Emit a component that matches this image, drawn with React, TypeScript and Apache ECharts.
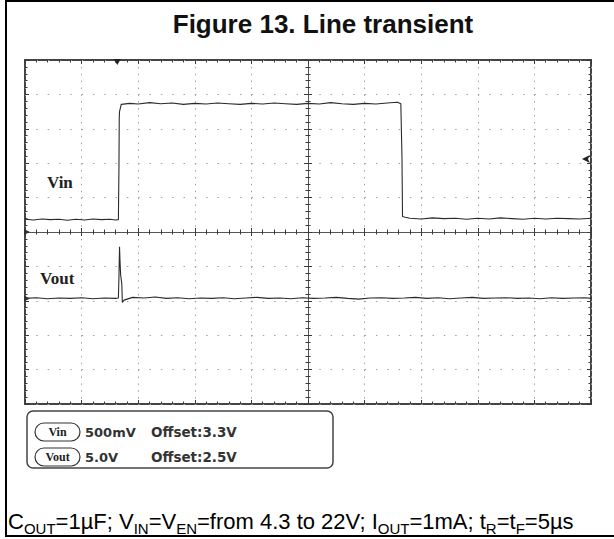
import React, { useEffect, useRef } from "react";
import * as echarts from "echarts";

const titleText = "Figure 13. Line transient";
const channelNames = ["Vin", "Vout"];
const channelScales = ["500mV", "5.0V"];
const channelOffsets = ["Offset:3.3V", "Offset:2.5V"];

// time in divisions (centre = 0), level in divisions
const vinTime = [
  -5.0, -4.85, -4.7, -4.55, -4.4, -4.25, -4.1, -3.95, -3.8, -3.65, -3.5, -3.4, -3.35,
  -3.34, -3.335, -3.33, -3.3,
  -3.15, -3.0, -2.8, -2.6, -2.4, -2.2, -2.0, -1.8, -1.6, -1.4, -1.2, -1.0, -0.8, -0.6, -0.4, -0.2,
  0.0, 0.2, 0.4, 0.6, 0.8, 1.0, 1.2, 1.4, 1.58, 1.64,
  1.66, 1.67, 1.72,
  1.8, 2.0, 2.2, 2.4, 2.6, 2.8, 3.0, 3.2, 3.4, 3.6, 3.8, 4.0, 4.2, 4.4, 4.6, 4.8, 5.0,
];
const vinLevel = [
  0.37, 0.35, 0.38, 0.36, 0.37, 0.34, 0.37, 0.35, 0.38, 0.36, 0.37, 0.35, 0.36,
  1.9, 3.3, 3.5, 3.71,
  3.74, 3.72, 3.76, 3.73, 3.75, 3.71, 3.74, 3.72, 3.75, 3.73, 3.71, 3.74, 3.72, 3.75, 3.73, 3.71,
  3.74, 3.72, 3.76, 3.73, 3.71, 3.74, 3.72, 3.75, 3.77, 3.73,
  2.2, 0.45, 0.43,
  0.4, 0.38, 0.41, 0.39, 0.4, 0.37, 0.4, 0.38, 0.41, 0.39, 0.37, 0.4, 0.38, 0.4, 0.39, 0.38, 0.4,
];
const voutTime = [
  -5.0, -4.8, -4.6, -4.4, -4.2, -4.0, -3.8, -3.6, -3.4, -3.35,
  -3.34, -3.33, -3.32, -3.31, -3.29, -3.28, -3.25,
  -3.1, -2.9, -2.7, -2.5, -2.3, -2.1, -1.9, -1.7, -1.5, -1.3, -1.1, -0.9, -0.7, -0.5, -0.3, -0.1,
  0.1, 0.3, 0.5, 0.7, 0.9, 1.1, 1.3, 1.5, 1.7, 1.9, 2.1, 2.3, 2.5, 2.7, 2.9, 3.1, 3.3, 3.5, 3.7,
  3.9, 4.1, 4.3, 4.5, 4.7, 4.9, 5.0,
];
const voutLevel = [
  -1.93, -1.91, -1.94, -1.92, -1.93, -1.91, -1.94, -1.92, -1.93, -1.92,
  -1.3, -0.43, -0.9, -1.25, -1.5, -2.05, -1.98,
  -1.9, -1.92, -1.89, -1.93, -1.91, -1.94, -1.92, -1.93, -1.91, -1.94, -1.92, -1.9, -1.93, -1.92, -1.94, -1.91,
  -1.93, -1.92, -1.9, -1.93, -1.95, -1.92, -1.91, -1.93, -1.92, -1.9, -1.93, -1.91, -1.94, -1.92, -1.9, -1.93, -1.92, -1.91, -1.93,
  -1.92, -1.94, -1.91, -1.93, -1.92, -1.91, -1.93,
];

const triggerTime = [-3.37];
const triggerLevel = [2.12];
const groundLevels = [0, -1.93];

const SANS = "'Liberation Sans', Arial, sans-serif";
const SERIF = "'Liberation Serif', 'Times New Roman', serif";
const SCOPE = "'DejaVu Sans', 'Liberation Sans', sans-serif";

export default function App() {
  const ref = useRef<HTMLDivElement>(null);

  useEffect(() => {
    if (!ref.current) return;
    const chart = echarts.init(ref.current, undefined, { renderer: "svg" });

    const axisColor = "#3a3a3a";
    const tickAxis = (extra: any) => ({
      type: "value",
      min: -5,
      max: 5,
      interval: 1,
      axisLabel: { show: false },
      splitLine: { show: false },
      axisLine: { show: true, lineStyle: { color: axisColor, width: 1 } },
      axisTick: { show: true, inside: true, length: 4, lineStyle: { color: axisColor, width: 1 } },
      minorTick: { show: true, splitNumber: 5, length: 2.5, lineStyle: { color: axisColor, width: 1 } },
      ...extra,
    });
    const dotted = { color: "#a0a0a0", width: 1, type: [1.5, 9.82] as any };
    const dottedV = { color: "#a0a0a0", width: 1, type: [1.5, 5.38] as any };

    const gridRect = { left: 25, top: 60, width: 566, height: 344 };
    const zip = (a: number[], b: number[]) => a.map((v, i) => [v, b[i]]);

    const option: any = {
      animation: false,
      backgroundColor: "#ffffff",
      title: {
        text: titleText,
        left: 318,
        textAlign: "center",
        top: 6,
        textStyle: { fontFamily: SANS, fontSize: 26, fontWeight: "bold", color: "#111" },
      },
      grid: [
        { ...gridRect, show: true, borderColor: "#444", borderWidth: 2, backgroundColor: "transparent" },
        { ...gridRect, show: false },
      ],
      xAxis: [
        tickAxis({ gridIndex: 0, position: "bottom", axisLine: { show: true, onZero: true, lineStyle: { color: "#555", width: 1 } },
          splitLine: { show: true, lineStyle: dottedV } }),
        tickAxis({ gridIndex: 0, position: "top", axisLine: { show: false, onZero: false } }),
        tickAxis({ gridIndex: 1, position: "bottom", axisLine: { show: false, onZero: false } }),
        tickAxis({ gridIndex: 1, position: "top", axisLine: { show: false, onZero: true } }),
      ],
      yAxis: [
        tickAxis({ gridIndex: 0, position: "left", axisLine: { show: true, onZero: true, lineStyle: { color: "#555", width: 1 } },
          splitLine: { show: true, lineStyle: dotted } }),
        tickAxis({ gridIndex: 0, position: "right", axisLine: { show: false, onZero: false } }),
        tickAxis({ gridIndex: 1, position: "left", axisLine: { show: false, onZero: false } }),
        tickAxis({ gridIndex: 1, position: "right", axisLine: { show: false, onZero: true } }),
      ],
      series: [
        {
          name: channelNames[0],
          type: "line",
          xAxisIndex: 0,
          yAxisIndex: 0,
          data: zip(vinTime, vinLevel),
          showSymbol: false,
          lineStyle: { color: "#2a2a2a", width: 1.1 },
          markPoint: {
            silent: true,
            label: { show: false },
            data: [
              { coord: [triggerTime[0], 5], symbol: "triangle", symbolSize: [7, 6], symbolRotate: 180, symbolOffset: [0, 2], itemStyle: { color: "#222" } },
              { coord: [4.84, triggerLevel[0]], symbol: "arrow", symbolSize: [6, 8], symbolRotate: 90, itemStyle: { color: "#222" } },
              { coord: [-5, groundLevels[0]], symbol: "triangle", symbolSize: [6, 6], symbolRotate: -90, symbolOffset: [2, 0], itemStyle: { color: "#333" } },
            ],
          },
        },
        {
          name: channelNames[1],
          type: "line",
          xAxisIndex: 0,
          yAxisIndex: 0,
          data: zip(voutTime, voutLevel),
          showSymbol: false,
          lineStyle: { color: "#2a2a2a", width: 1.1 },
          markPoint: {
            silent: true,
            label: { show: false },
            data: [
              { coord: [-5, groundLevels[1]], symbol: "triangle", symbolSize: [6, 6], symbolRotate: -90, symbolOffset: [2, 0], itemStyle: { color: "#333" } },
            ],
          },
        },
      ],
      graphic: [
        { type: "rect", silent: true, z: -1, shape: { x: 6, y: 1, width: 640, height: 535 }, style: { fill: "none", stroke: "#000", lineWidth: 2 } },
        { type: "text", x: 47, y: 182, style: { text: channelNames[0], fontFamily: SERIF, fontWeight: "bold", fontSize: 17, fill: "#222", verticalAlign: "middle" } },
        { type: "text", x: 40, y: 278, style: { text: channelNames[1], fontFamily: SERIF, fontWeight: "bold", fontSize: 17, fill: "#222", verticalAlign: "middle" } },
        { type: "rect", silent: true, shape: { x: 27, y: 411, width: 306, height: 57, r: 6 }, style: { fill: "none", stroke: "#444", lineWidth: 1.5 } },
        ...[0, 1].flatMap((i) => {
          const cy = 432 + i * 25;
          return [
            { type: "rect", silent: true, shape: { x: 35, y: cy - 9, width: 45, height: 18, r: 9 }, style: { fill: "#fff", stroke: "#333", lineWidth: 1.2 } },
            { type: "text", x: 57.5, y: cy, style: { text: channelNames[i], fontFamily: SERIF, fontWeight: "bold", fontSize: 12, fill: "#222", align: "center", verticalAlign: "middle" } },
            { type: "text", x: 85, y: cy, style: { text: channelScales[i], fontFamily: SCOPE, fontWeight: "bold", fontSize: 13, fill: "#333", verticalAlign: "middle" } },
            { type: "text", x: 151, y: cy, style: { text: channelOffsets[i], fontFamily: SCOPE, fontWeight: "bold", fontSize: 13.5, fill: "#333", verticalAlign: "middle" } },
          ];
        }),
        {
          type: "text",
          x: 8,
          y: 506,
          style: {
            text: "{m|C}{s|OUT}{m|=1µF; V}{s|IN}{m|=V}{s|EN}{m|=from 4.3 to 22V; I}{s|OUT}{m|=1mA; t}{s|R}{m|=t}{s|F}{m|=5µs}",
            fontFamily: SANS,
            fontSize: 22,
            fill: "#000",
            verticalAlign: "top",
            rich: {
              m: { fontFamily: SANS, fontSize: 22, lineHeight: 30, color: "#000" },
              s: { fontFamily: SANS, fontSize: 15, lineHeight: 15, color: "#000", verticalAlign: "bottom" },
            },
          },
        },
      ],
    };

    chart.setOption(option);
    return () => chart.dispose();
  }, []);

  return (
    <div
      ref={ref}
      style={{ position: "absolute", left: 0, top: 0, width: 614, height: 539, background: "#fff" }}
    />
  );
}
